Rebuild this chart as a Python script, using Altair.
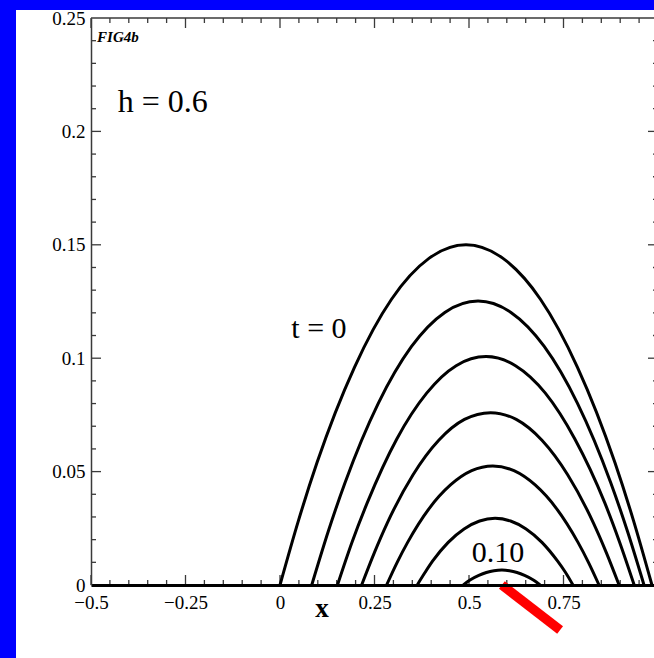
import altair as alt
import pandas as pd

# Height profiles y(x) at successive times (t = 0 outermost, t = 0.10 innermost)
C0_X = [0.000, 0.049, 0.098, 0.197, 0.295, 0.394, 0.492, 0.590, 0.689, 0.787, 0.886, 0.935, 0.984]
C0_Y = [0.0, 0.0285, 0.0540, 0.0960, 0.1260, 0.1440, 0.1500, 0.1440, 0.1260, 0.0960, 0.0540, 0.0285, 0.0]
C1_X = [0.084, 0.128, 0.172, 0.260, 0.348, 0.436, 0.524, 0.611, 0.699, 0.787, 0.875, 0.919, 0.963]
C1_Y = [0.0, 0.0238, 0.0451, 0.0801, 0.1052, 0.1202, 0.1252, 0.1202, 0.1052, 0.0801, 0.0451, 0.0238, 0.0]
C2_X = [0.152, 0.191, 0.231, 0.309, 0.388, 0.466, 0.545, 0.623, 0.702, 0.780, 0.859, 0.898, 0.937]
C2_Y = [0.0, 0.0191, 0.0363, 0.0644, 0.0846, 0.0967, 0.1007, 0.0967, 0.0846, 0.0644, 0.0363, 0.0191, 0.0]
C3_X = [0.216, 0.250, 0.284, 0.352, 0.420, 0.488, 0.557, 0.625, 0.693, 0.761, 0.829, 0.863, 0.897]
C3_Y = [0.0, 0.0144, 0.0274, 0.0486, 0.0638, 0.0730, 0.0760, 0.0730, 0.0638, 0.0486, 0.0274, 0.0144, 0.0]
C4_X = [0.282, 0.310, 0.338, 0.394, 0.451, 0.507, 0.563, 0.619, 0.675, 0.732, 0.788, 0.816, 0.844]
C4_Y = [0.0, 0.0100, 0.0189, 0.0336, 0.0441, 0.0504, 0.0525, 0.0504, 0.0441, 0.0336, 0.0189, 0.0100, 0.0]
C5_X = [0.363, 0.384, 0.404, 0.445, 0.487, 0.528, 0.569, 0.610, 0.651, 0.693, 0.734, 0.755, 0.775]
C5_Y = [0.0, 0.0056, 0.0106, 0.0188, 0.0247, 0.0282, 0.0294, 0.0282, 0.0247, 0.0188, 0.0106, 0.0056, 0.0]
C6_X = [0.485, 0.495, 0.505, 0.526, 0.546, 0.566, 0.587, 0.607, 0.627, 0.647, 0.668, 0.678, 0.688]
C6_Y = [0.0, 0.0013, 0.0024, 0.0042, 0.0055, 0.0063, 0.0066, 0.0063, 0.0055, 0.0042, 0.0024, 0.0013, 0.0]

CURVE_NAMES = ["c0", "c1", "c2", "c3", "c4", "c5", "c6"]
CURVE_XS = [C0_X, C1_X, C2_X, C3_X, C4_X, C5_X, C6_X]
CURVE_YS = [C0_Y, C1_Y, C2_Y, C3_Y, C4_Y, C5_Y, C6_Y]

# Axis ticks
X_MAJOR = [-0.5, -0.25, 0.0, 0.25, 0.5, 0.75]
X_MINOR = [-0.45, -0.4, -0.35, -0.3, -0.2, -0.15, -0.1, -0.05, 0.05, 0.1, 0.15, 0.2,
           0.3, 0.35, 0.4, 0.45, 0.55, 0.6, 0.65, 0.7, 0.8, 0.85, 0.9, 0.95]
Y_LABELS = [0.0, 0.05, 0.1, 0.15, 0.2, 0.25]
Y_MAJOR = [0.05, 0.1, 0.15, 0.2]
Y_MINOR = [0.01, 0.02, 0.03, 0.04, 0.06, 0.07, 0.08, 0.09, 0.11, 0.12, 0.13, 0.14,
           0.16, 0.17, 0.18, 0.19, 0.21, 0.22, 0.23, 0.24]
X_FRAME_RIGHT = 1.0

# Pointer bar near the t = 0.10 profile
ARROW_X = [0.587]
ARROW_Y = [0.0]
ARROW_X2 = [0.741]
ARROW_Y2 = [-0.0198]

W, H = 563, 567
PX_PER_X = 378.0
FONT = "Liberation Serif"
FRAME = "#3a3a3a"

xscale = alt.Scale(domain=[-0.5, -0.5 + W / PX_PER_X], nice=False, zero=False)
yscale = alt.Scale(domain=[0.0, 0.25], nice=False, zero=False)

x_axis = alt.Axis(values=X_MAJOR, format=".2~f", ticks=False, grid=False, title=None,
                  domainColor="black", domainWidth=3, labelFont=FONT, labelFontSize=19,
                  labelColor="black", labelPadding=8, labelFlush=False, zindex=1)
y_axis = alt.Axis(values=Y_LABELS, format=".2~f", ticks=False, grid=False, title=None,
                  domainColor=FRAME, domainWidth=1.5, labelFont=FONT, labelFontSize=19,
                  labelColor="black", labelPadding=6, zindex=1)


def X(field):
    return alt.X(field, type="quantitative", scale=xscale, axis=x_axis)


def Y(field):
    return alt.Y(field, type="quantitative", scale=yscale, axis=y_axis)


one = pd.DataFrame({"a": [0]})

# White page panel over the blue surround
panel = alt.Chart(one).mark_rect(color="white").encode(
    x=alt.value(-75), x2=alt.value(W), y=alt.value(-8), y2=alt.value(H + 73)
)

rows = []
for name, xs, ys in zip(CURVE_NAMES, CURVE_XS, CURVE_YS):
    for i, (xv, yv) in enumerate(zip(xs, ys)):
        rows.append({"curve": name, "i": i, "x": xv, "y": yv})
curves_df = pd.DataFrame(rows)

curves = alt.Chart(curves_df).mark_line(
    color="black", strokeWidth=3, interpolate="monotone", strokeJoin="round"
).encode(x=X("x"), y=Y("y"), detail="curve:N", order="i:Q")


def xticks(vals, length):
    df = pd.DataFrame({"v": vals})
    style = dict(color=FRAME, strokeWidth=1.3)
    bottom = alt.Chart(df).mark_rule(**style).encode(
        x=X("v"), y=alt.value(H), y2=alt.value(H - length))
    top = alt.Chart(df).mark_rule(**style).encode(
        x=X("v"), y=alt.value(0), y2=alt.value(length))
    return [bottom, top]


def yticks(vals, length):
    df = pd.DataFrame({"v": vals, "xr": [X_FRAME_RIGHT] * len(vals),
                       "xr2": [X_FRAME_RIGHT - length / PX_PER_X] * len(vals)})
    style = dict(color=FRAME, strokeWidth=1.3)
    left = alt.Chart(df).mark_rule(**style).encode(
        y=Y("v"), x=alt.value(0), x2=alt.value(length))
    right = alt.Chart(df).mark_rule(**style).encode(
        y=Y("v"), x=X("xr"), x2="xr2:Q")
    return [left, right]


ticks = xticks(X_MAJOR + [X_FRAME_RIGHT], 10) + xticks(X_MINOR, 5) + \
    yticks(Y_MAJOR, 10) + yticks(Y_MINOR, 5)

top_frame = alt.Chart(pd.DataFrame({"v": [0.25]})).mark_rule(
    color=FRAME, strokeWidth=1.6).encode(y=Y("v"))


def label(text, x, y, size, align="center", weight="normal", style="normal"):
    df = pd.DataFrame({"x": [x], "y": [y], "t": [text]})
    return alt.Chart(df).mark_text(
        font=FONT, fontSize=size, align=align, baseline="alphabetic",
        fontWeight=weight, fontStyle=style, color="black"
    ).encode(x=X("x"), y=Y("y"), text="t:N")


texts = [
    label("FIG4b", -0.484, 0.2394, 15, align="left", weight="bold", style="italic"),
    label("h = 0.6", -0.31, 0.2086, 32),
    label("t = 0", 0.103, 0.1089, 30),
    label("0.10", 0.577, 0.0101, 30),
    label("x", 0.111, -0.0141, 27, weight="bold"),
]

arrow_df = pd.DataFrame({"x": ARROW_X, "y": ARROW_Y, "x2": ARROW_X2, "y2": ARROW_Y2})
arrow = alt.Chart(arrow_df).mark_rule(color="#ff0000", strokeWidth=9.5, strokeCap="butt").encode(
    x=X("x"), y=Y("y"), x2="x2:Q", y2="y2:Q")

chart = alt.layer(panel, *ticks, top_frame, curves, *texts, arrow).properties(
    width=W, height=H,
    padding={"left": 91, "top": 18, "right": 0, "bottom": 73},
    autosize=alt.AutoSizeParams(type="none"),
).configure(background="#0000ff").configure_view(strokeWidth=0)

chart.save("out.html", embed_options={"renderer": "svg", "actions": False})
